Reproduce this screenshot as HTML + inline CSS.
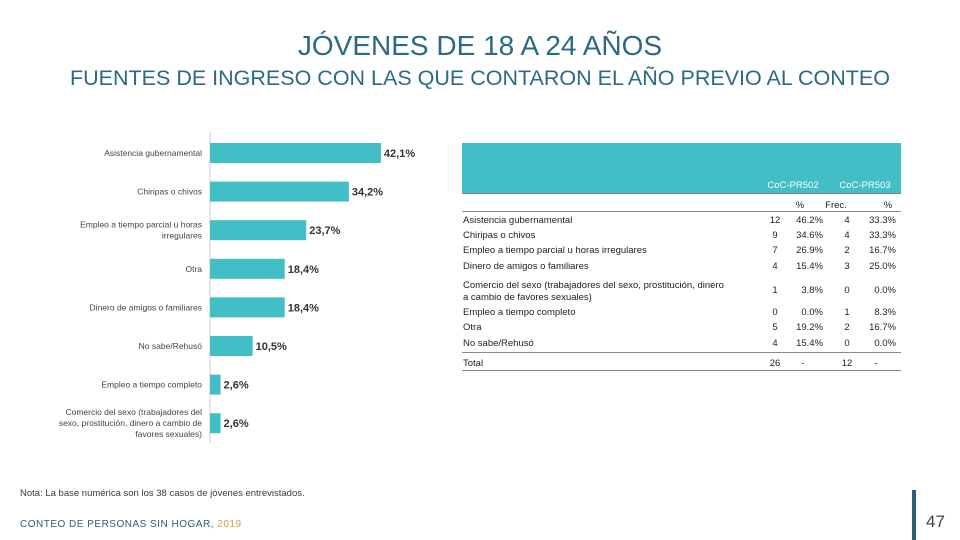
<!DOCTYPE html>
<html><head><meta charset="utf-8"><style>
body{margin:0;width:960px;height:540px;background:#fff;font-family:"Liberation Sans",sans-serif;position:relative;overflow:hidden}
.t{position:absolute;color:#3a3a3a}
#tbl{position:absolute;left:462px;top:143px;width:439px;font-size:9.5px;color:#222}
.r{position:absolute;left:0;width:439px}
.c{position:absolute;text-align:right}
</style></head><body>
<div class="t" style="left:0;width:960px;top:30px;text-align:center;font-size:28px;color:#2a6a85">JÓVENES DE 18 A 24 AÑOS</div>
<div class="t" style="left:0;width:960px;top:66px;text-align:center;font-size:21.5px;color:#2a6a85">FUENTES DE INGRESO CON LAS QUE CONTARON EL AÑO PREVIO AL CONTEO</div>
<svg id="chart" width="460" height="320" style="position:absolute;left:0;top:130px"></svg>
<div id="tbl">
<div style="position:absolute;left:0;top:0;width:439px;height:50px;background:#42bfc6;border-bottom:1px solid #888"></div>
<div class="c" style="left:291px;width:80px;top:37px;color:#fff;text-align:center">CoC-PR502</div>
<div class="c" style="left:363px;width:80px;top:37px;color:#fff;text-align:center">CoC-PR503</div>
<div class="c" style="left:328px;width:20px;top:57px;text-align:center">%</div>
<div class="c" style="left:359px;width:30px;top:57px;text-align:center">Frec.</div>
<div class="c" style="left:416px;width:20px;top:57px;text-align:center">%</div>
<div style="position:absolute;left:0;top:68px;width:439px;border-top:1px solid #888"></div>
<div style="position:absolute;left:0;top:209px;width:439px;border-top:1px solid #888"></div>
<div style="position:absolute;left:0;top:227px;width:439px;border-top:1px solid #888"></div>
<div id="rows"></div>
</div>
<div class="t" style="left:20px;top:488px;font-size:9.5px">Nota: La base numérica son los 38 casos de jóvenes entrevistados.</div>
<div class="t" style="left:20px;top:519px;font-size:10px;color:#2a5f78;letter-spacing:0.5px">CONTEO DE PERSONAS SIN HOGAR, <span style="color:#c8a040">2019</span></div>
<div style="position:absolute;left:912px;top:490px;width:4px;height:50px;background:#2a5f78"></div>
<div class="t" style="left:926px;top:512px;font-size:17px;color:#444">47</div>
<script>
const categories=["Asistencia gubernamental","Chiripas o chivos","Empleo a tiempo parcial u horas irregulares","Otra","Dinero de amigos o familiares","No sabe/Rehusó","Empleo a tiempo completo","Comercio del sexo (trabajadores del sexo, prostitución, dinero a cambio de favores sexuales)"];
const labelLines=[["Asistencia gubernamental"],["Chiripas o chivos"],["Empleo a tiempo parcial u horas","irregulares"],["Otra"],["Dinero de amigos o familiares"],["No sabe/Rehusó"],["Empleo a tiempo completo"],["Comercio del sexo (trabajadores del","sexo, prostitución, dinero a cambio de","favores sexuales)"]];
const values=[42.1,34.2,23.7,18.4,18.4,10.5,2.6,2.6];
const valueLabels=["42,1%","34,2%","23,7%","18,4%","18,4%","10,5%","2,6%","2,6%"];
const NS="http://www.w3.org/2000/svg";
const svg=document.getElementById('chart');
const x0=210,xs=v=>v*4.06,yc=i=>23+i*38.6;
function mk(t,a){const e=document.createElementNS(NS,t);for(const k in a)e.setAttribute(k,a[k]);svg.appendChild(e);return e;}
const ax=mk('line',{x1:x0,x2:x0,y1:2,y2:313,stroke:'#ccc'});


values.forEach((v,i)=>{
 const r=mk('rect',{x:x0,y:yc(i)-10,width:xs(v),height:20,fill:'#42bfc6'});
 
 
 const t=mk('text',{x:x0+xs(v)+3,y:yc(i)+4,'font-size':11,'font-weight':'bold',fill:'#333'});
 t.textContent=valueLabels[i];
 
 
 const L=labelLines[i];
 L.forEach((s,j)=>{
  const c=mk('text',{x:x0-8,y:yc(i)+3+(j-(L.length-1)/2)*11,'font-size':8.5,'text-anchor':'end',fill:'#444'});
  c.textContent=s;
  
  
 });
});
const rowNames=["Asistencia gubernamental","Chiripas o chivos","Empleo a tiempo parcial u horas irregulares","Dinero de amigos o familiares","Comercio del sexo (trabajadores del sexo, prostitución, dinero<br>a cambio de favores sexuales)","Empleo a tiempo completo","Otra","No sabe/Rehusó","Total"];
const frec502=["12","9","7","4","1","0","5","4","26"];
const pct502=["46.2%","34.6%","26.9%","15.4%","3.8%","0.0%","19.2%","15.4%","-"];
const frec503=["4","4","2","3","0","1","2","0","12"];
const pct503=["33.3%","33.3%","16.7%","25.0%","0.0%","8.3%","16.7%","0.0%","-"];
const rowTop=[72,87,102,118,137,164,179,195,215];
const rows=document.getElementById('rows');
rowNames.forEach((n,i)=>{
 const d=document.createElement('div');
 d.className='r';d.style.top=rowTop[i]+'px';
 
 
 const two=n.includes('<br>');
 const tp=two?5:0;
 d.innerHTML='<div style="position:absolute;left:1px;top:0;line-height:12px">'+n+'</div>'+
 '<div class="c" style="left:301px;width:24px;top:'+tp+'px;text-align:center">'+frec502[i]+'</div>'+
 '<div class="c" style="left:321px;width:40px;top:'+tp+'px;'+(i==8?'text-align:center':'')+'">'+pct502[i]+'</div>'+
 '<div class="c" style="left:373px;width:24px;top:'+tp+'px;text-align:center">'+frec503[i]+'</div>'+
 '<div class="c" style="left:394px;width:40px;top:'+tp+'px;'+(i==8?'text-align:center':'')+'">'+pct503[i]+'</div>';
 rows.appendChild(d);
});
</script>
</body></html>
